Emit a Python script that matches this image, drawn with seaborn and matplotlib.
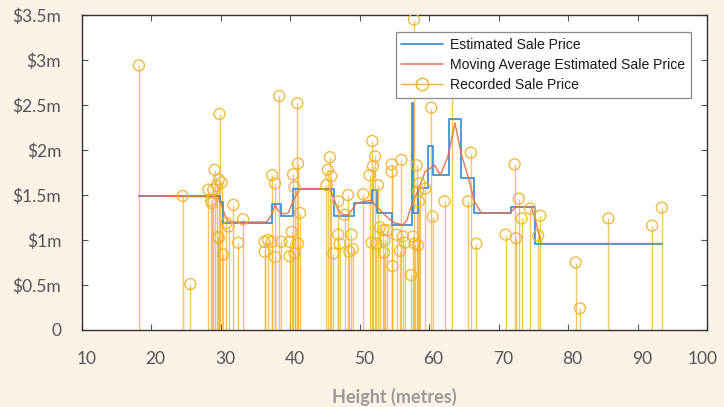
import matplotlib
matplotlib.use("Agg")
import matplotlib.pyplot as plt
from matplotlib.lines import Line2D
from matplotlib.transforms import ScaledTranslation
import seaborn as sns
import pandas as pd

# ---------------- data ----------------
rec_height = [18.2, 24.5, 25.6,
              28.2, 28.6, 28.7, 28.9, 29.1, 29.4, 29.6, 29.7, 29.7, 29.8, 30.1, 30.3,
              30.8, 31.1, 31.8, 32.5, 33.2,
              36.3, 36.3, 36.8, 37.3, 37.4, 37.8, 37.8, 38.4, 38.7, 39.9, 39.9, 40.2,
              40.4, 40.6, 40.6, 41.0, 41.1, 41.1, 41.4,
              45.2, 45.4, 45.7, 45.9, 46.2, 46.9, 46.9, 47.1, 47.8, 48.3, 48.5, 48.8, 49.0,
              50.5, 51.4, 51.7, 51.8, 51.9, 52.2, 52.4, 52.6, 52.9,
              53.4, 53.5, 53.6, 53.9, 54.6, 54.6, 54.7, 55.3, 55.8, 56.0, 56.2, 56.5,
              57.4, 57.7, 57.8, 57.9, 58.2, 58.4, 58.4, 58.5, 58.6,
              59.4, 60.3, 60.5, 62.2, 63.3, 65.6, 66.0, 66.8,
              71.0, 72.3, 72.5, 72.9, 73.3, 74.5, 75.7, 76.0,
              81.1, 81.7, 85.8, 92.1, 93.5]
rec_price = [2.94, 1.49, 0.51,
             1.56, 1.44, 1.41, 1.56, 1.78, 1.60, 1.04, 1.67, 1.02, 2.40, 1.64, 0.84,
             1.19, 1.15, 1.39, 0.97, 1.23,
             0.87, 0.98, 1.00, 0.98, 1.72, 1.63, 0.81, 2.60, 0.98, 0.98, 0.82, 1.09,
             1.73, 1.59, 0.85, 2.52, 1.85, 0.96, 1.30,
             1.61, 1.78, 1.92, 1.71, 0.85, 1.43, 1.06, 0.96, 1.28, 1.50, 0.87, 1.06, 0.90,
             1.51, 1.72, 0.97, 2.10, 1.82, 1.93, 0.96, 1.61, 1.14,
             1.11, 0.86, 1.00, 1.11, 1.84, 1.76, 0.71, 1.06, 0.88, 1.89, 1.04, 0.97,
             0.61, 1.04, 3.45, 0.96, 1.83, 1.54, 0.94, 1.43, 1.63,
             1.57, 2.47, 1.26, 1.43, 2.90, 1.43, 1.97, 0.96,
             1.06, 1.84, 1.02, 1.46, 1.24, 1.35, 1.05, 1.27,
             0.75, 0.24, 1.24, 1.16, 1.36]

est_height = [18.2, 29.9, 30.3, 37.3, 38.6, 40.4, 46.3, 49.1, 51.8, 52.5, 54.7,
              57.45, 57.65, 58.4, 59.8, 60.5, 62.8, 64.6, 66.5, 71.8, 75.3, 93.5]
est_price = [1.49, 1.42, 1.19, 1.40, 1.27, 1.57, 1.27, 1.41, 1.56, 1.30, 1.17,
             2.52, 1.30, 1.58, 2.04, 1.72, 2.35, 1.69, 1.30, 1.37, 0.96, 0.96]

ma_height = [18.2, 29.6, 30.1, 30.6, 31.1, 36.6, 37.3, 37.8, 38.2, 39.0, 39.7, 40.4,
             41.1, 41.6, 45.7, 46.3, 46.9, 47.6, 48.3, 49.0, 49.5, 50.7, 51.7, 52.4,
             53.1, 54.1, 55.0, 56.2, 56.8, 57.2, 57.9, 58.6, 59.4, 60.8, 61.6, 62.7,
             63.7, 64.6, 65.6, 66.5, 67.5, 71.6, 72.5, 74.7, 75.4, 76.1, 93.5]
ma_price = [1.49, 1.48, 1.39, 1.27, 1.20, 1.20, 1.28, 1.39, 1.33, 1.29, 1.30, 1.43,
            1.54, 1.57, 1.57, 1.45, 1.33, 1.28, 1.28, 1.35, 1.41, 1.43, 1.44, 1.37,
            1.32, 1.24, 1.19, 1.17, 1.22, 1.33, 1.46, 1.59, 1.76, 1.83, 1.72, 1.93,
            2.30, 1.96, 1.70, 1.43, 1.30, 1.30, 1.37, 1.37, 1.19, 0.96, 0.96]

x_ticks = [10, 20, 30, 40, 50, 60, 70, 80, 90, 100]
y_ticks = [0, 0.5, 1, 1.5, 2, 2.5, 3, 3.5]
y_tick_labels = ['0', '$0.5m', '$1m', '$1.5m', '$2m', '$2.5m', '$3m', '$3.5m']

labels = ['Estimated Sale Price', 'Moving Average Estimated Sale Price', 'Recorded Sale Price']

# ---------------- style ----------------
BG = '#fcf2e8'
BLUE = '#3f93d6'
ORANGE = '#e2714f'
YELLOW = '#f0b32e'

sns.set_theme(style='white')
plt.rcParams['font.family'] = ['Lato', 'DejaVu Sans']

fig = plt.figure(figsize=(7.24, 4.07), dpi=100, facecolor=BG)
ax = fig.add_axes([82 / 724, 1 - 330 / 407, (707 - 82) / 724, (330 - 15) / 407])
ax.set_facecolor('white')

rec = pd.DataFrame({'h': rec_height, 'p': rec_price})
est = pd.DataFrame({'h': est_height, 'p': est_price})
ma = pd.DataFrame({'h': ma_height, 'p': ma_price})

# stems
ax.vlines(rec['h'], 0, rec['p'], color=YELLOW, alpha=0.75, lw=1.0, zorder=1)

sns.lineplot(data=est, x='h', y='p', ax=ax, color=BLUE, lw=1.3,
             drawstyle='steps-post', sort=False, zorder=2)
sns.lineplot(data=ma, x='h', y='p', ax=ax, color=ORANGE, lw=1.1, alpha=0.9,
             sort=False, zorder=3)

sns.scatterplot(data=rec, x='h', y='p', ax=ax, marker='o', s=62,
                facecolors='none', edgecolor=YELLOW, linewidth=1.0, alpha=0.9,
                zorder=4)

ax.set_xlim(10, 100)
ax.set_ylim(0, 3.5)
ax.set_xticks(x_ticks)
ax.set_xticklabels([str(t) for t in x_ticks])
ax.set_yticks(y_ticks)
ax.set_yticklabels(y_tick_labels)

ax.tick_params(axis='both', which='both', direction='in', length=4, width=0.8,
               color='#555555', top=True, right=True, bottom=True, left=True,
               labelsize=12.5, labelcolor='#555555')
ax.tick_params(axis='y', pad=15)
ax.tick_params(axis='x', pad=15)
xlabs = ax.get_xticklabels()
for i, lab in enumerate(xlabs):
    dx = 3 if i < len(xlabs) - 1 else -3
    lab.set_transform(lab.get_transform() + ScaledTranslation(dx / 72, 0, fig.dpi_scale_trans))

for sp in ax.spines.values():
    sp.set_visible(True)
    sp.set_color('#333333')
    sp.set_linewidth(1.0)

ax.set_xlabel('Height (metres)', fontsize=13, fontweight='bold', color='#9a9a9a', labelpad=15)
ax.set_ylabel('')

handles = [Line2D([], [], color=BLUE, lw=1.3),
           Line2D([], [], color=ORANGE, lw=1.1),
           Line2D([], [], color=YELLOW, lw=1.0, marker='o', markersize=9,
                  markerfacecolor='none', markeredgecolor=YELLOW)]
leg = ax.legend(handles, labels, loc='upper right', bbox_to_anchor=(691 / 724, 1 - 32 / 407),
                bbox_transform=fig.transFigure, frameon=True, fancybox=False,
                framealpha=1, edgecolor='#8a8a8a', facecolor='white',
                prop={'family': ['Liberation Sans', 'DejaVu Sans'], 'size': 10.1},
                handlelength=3.0, handletextpad=0.5, labelspacing=0.45,
                borderpad=0.4, borderaxespad=0)
leg.get_frame().set_linewidth(0.9)
leg.set_zorder(10)
for t in leg.get_texts():
    t.set_color('#1a1a1a')

fig.savefig('out.png', dpi=100, facecolor=BG)
